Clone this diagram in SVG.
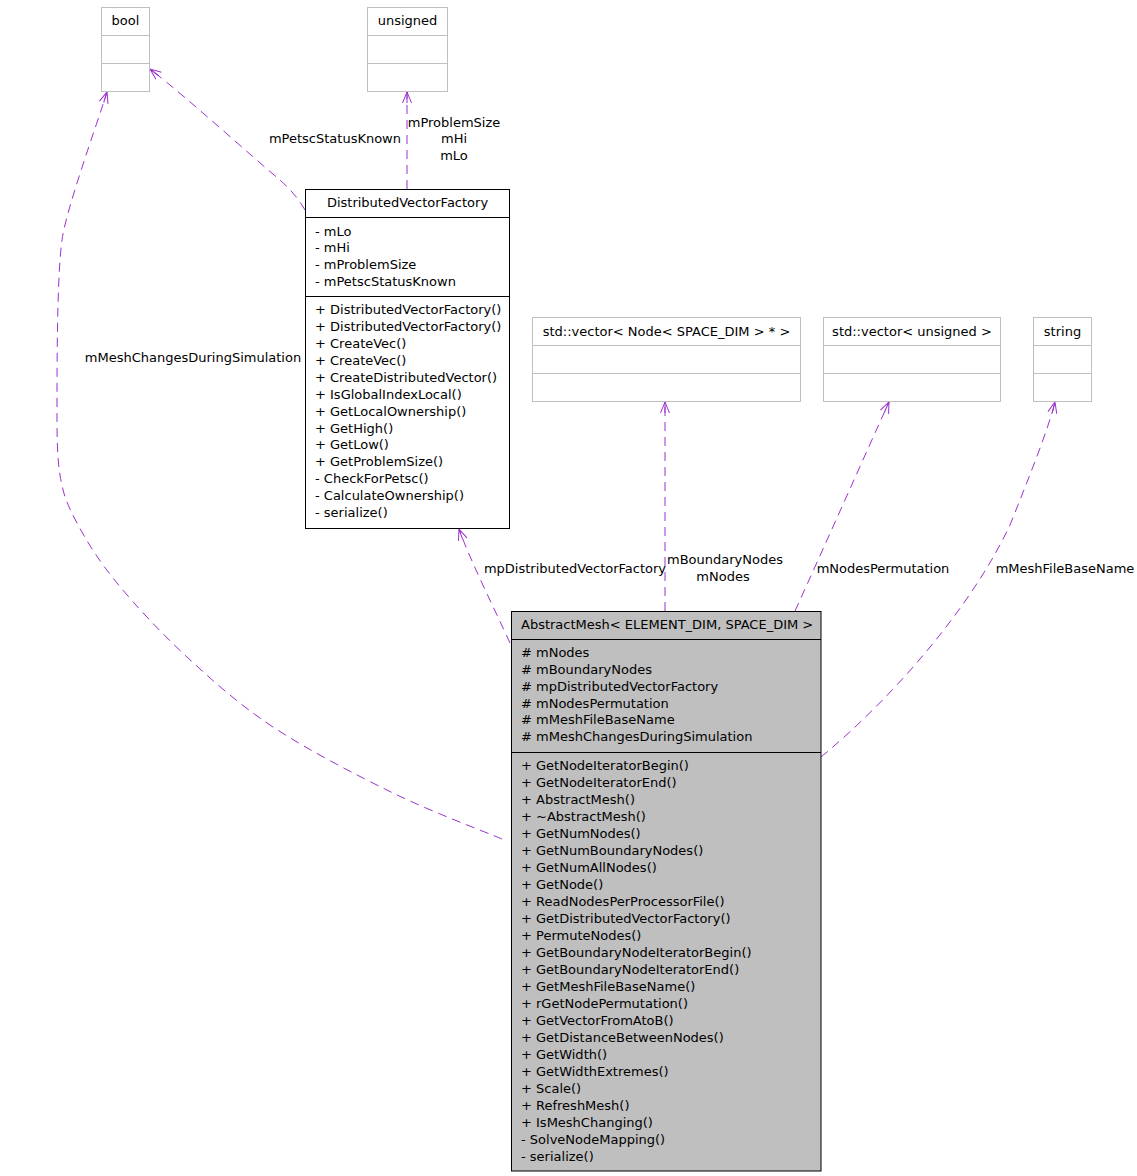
<svg xmlns="http://www.w3.org/2000/svg" width="1137" height="1176" viewBox="0 0 1137 1176">
<style>
text{font-family:"DejaVu Sans","Liberation Sans",sans-serif;font-size:13px;fill:#000}
.ext{fill:#fff;stroke:#bfbfbf;stroke-width:1}
.cls{fill:#fff;stroke:#000;stroke-width:1}
.main{fill:#bfbfbf;stroke:#000;stroke-width:1}
.sepx{stroke:#bfbfbf;stroke-width:1}
.sep{stroke:#000;stroke-width:1}
.edge{fill:none;stroke:#9a32cd;stroke-width:1;stroke-dasharray:9,6;marker-end:url(#arr)}
.m{text-anchor:middle}
.e{text-anchor:end}
</style>
<defs>
<marker id="arr" markerUnits="userSpaceOnUse" markerWidth="14" markerHeight="14" viewBox="-12 -7 14 14" refX="0" refY="0" orient="auto">
<path d="M-11,-4.5 L0,0 L-11,4.5 M-11,0 L0,0" fill="none" stroke="#9a32cd" stroke-width="1"/>
</marker>
</defs>
<rect width="1137" height="1176" fill="#fff"/>

<g id="connectors">
<path class="edge" d="M502,839 C483.8,831.3 431.2,811.7 393,793 C354.8,774.3 307.3,749.7 273,727 C238.7,704.3 213,681 187,657 C161,633 135.3,605.3 117,583 C98.7,560.7 86.5,541 77,523 C67.5,505 63.3,495.5 60,475 C56.7,454.5 57,430 57,400 C57,330 58,270 62,240 C66,210 95,130 107,92"/>
<path class="edge" d="M305,210 C298,198 291,190 280,180 C250,155 190,100 150,69"/>
<path class="edge" d="M407,189 L407,92"/>
<path class="edge" d="M510,643 C495,610 470,560 459,529"/>
<path class="edge" d="M665,611 L665,402"/>
<path class="edge" d="M795,611 C825,545 865,455 889,402"/>
<path class="edge" d="M821,757 C890,700 970,610 1010,525 C1030,475 1048,430 1055,402"/>
<text x="193" y="361.5" class="m">mMeshChangesDuringSimulation</text>
<text x="401" y="142.5" class="e">mPetscStatusKnown</text>
<text x="454" y="126.5" class="m">mProblemSize</text>
<text x="454" y="142.5" class="m">mHi</text>
<text x="454" y="159.5" class="m">mLo</text>
<text x="575" y="572.5" class="m">mpDistributedVectorFactory</text>
<text x="725" y="563.5" class="m">mBoundaryNodes</text>
<text x="723" y="580.5" class="m">mNodes</text>
<text x="883" y="572.5" class="m">mNodesPermutation</text>
<text x="1065" y="572.5" class="m">mMeshFileBaseName</text>
</g>

<g id="bool">
<rect class="ext" x="101.5" y="7.5" width="48" height="84"/>
<line class="sepx" x1="101.5" y1="35.5" x2="149.5" y2="35.5"/>
<line class="sepx" x1="101.5" y1="63.5" x2="149.5" y2="63.5"/>
<text x="125.5" y="25" class="m">bool</text>
</g>

<g id="unsigned">
<rect class="ext" x="367.5" y="7.5" width="80" height="84"/>
<line class="sepx" x1="367.5" y1="35.5" x2="447.5" y2="35.5"/>
<line class="sepx" x1="367.5" y1="63.5" x2="447.5" y2="63.5"/>
<text x="407.5" y="25" class="m">unsigned</text>
</g>

<g id="vector_node">
<rect class="ext" x="532.5" y="317.5" width="268" height="84"/>
<line class="sepx" x1="532.5" y1="345.5" x2="800.5" y2="345.5"/>
<line class="sepx" x1="532.5" y1="373.5" x2="800.5" y2="373.5"/>
<text x="666.5" y="335.5" class="m">std::vector&lt; Node&lt; SPACE_DIM &gt; * &gt;</text>
</g>

<g id="vector_unsigned">
<rect class="ext" x="823.5" y="317.5" width="177" height="84"/>
<line class="sepx" x1="823.5" y1="345.5" x2="1000.5" y2="345.5"/>
<line class="sepx" x1="823.5" y1="373.5" x2="1000.5" y2="373.5"/>
<text x="912" y="335.5" class="m">std::vector&lt; unsigned &gt;</text>
</g>

<g id="string">
<rect class="ext" x="1033.5" y="317.5" width="58" height="84"/>
<line class="sepx" x1="1033.5" y1="345.5" x2="1091.5" y2="345.5"/>
<line class="sepx" x1="1033.5" y1="373.5" x2="1091.5" y2="373.5"/>
<text x="1062.5" y="335.5" class="m">string</text>
</g>

<g id="DistributedVectorFactory">
<rect class="cls" x="305.5" y="189.5" width="204" height="339"/>
<line class="sep" x1="305.5" y1="217.5" x2="509.5" y2="217.5"/>
<line class="sep" x1="305.5" y1="296.5" x2="509.5" y2="296.5"/>
<text x="407.5" y="207" class="m">DistributedVectorFactory</text>
<text x="315" y="235.5">- mLo</text>
<text x="315" y="252.2">- mHi</text>
<text x="315" y="268.9">- mProblemSize</text>
<text x="315" y="285.6">- mPetscStatusKnown</text>
<text x="315" y="313.8">+ DistributedVectorFactory()</text>
<text x="315" y="330.8">+ DistributedVectorFactory()</text>
<text x="315" y="347.7">+ CreateVec()</text>
<text x="315" y="364.7">+ CreateVec()</text>
<text x="315" y="381.6">+ CreateDistributedVector()</text>
<text x="315" y="398.6">+ IsGlobalIndexLocal()</text>
<text x="315" y="415.5">+ GetLocalOwnership()</text>
<text x="315" y="432.5">+ GetHigh()</text>
<text x="315" y="449.4">+ GetLow()</text>
<text x="315" y="466.4">+ GetProblemSize()</text>
<text x="315" y="483.3">- CheckForPetsc()</text>
<text x="315" y="500.3">- CalculateOwnership()</text>
<text x="315" y="517.2">- serialize()</text>
</g>

<g id="AbstractMesh">
<rect class="main" x="511.5" y="611.5" width="309.5" height="559.5"/>
<line class="sep" x1="511.5" y1="639.5" x2="821" y2="639.5"/>
<line class="sep" x1="511.5" y1="752.5" x2="821" y2="752.5"/>
<text x="521" y="629">AbstractMesh&lt; ELEMENT_DIM, SPACE_DIM &gt;</text>
<text x="521" y="656.8"># mNodes</text>
<text x="521" y="673.7"># mBoundaryNodes</text>
<text x="521" y="690.6"># mpDistributedVectorFactory</text>
<text x="521" y="707.5"># mNodesPermutation</text>
<text x="521" y="724.4"># mMeshFileBaseName</text>
<text x="521" y="741.3"># mMeshChangesDuringSimulation</text>
<text x="521" y="769.5">+ GetNodeIteratorBegin()</text>
<text x="521" y="786.5">+ GetNodeIteratorEnd()</text>
<text x="521" y="803.5">+ AbstractMesh()</text>
<text x="521" y="820.5">+ ~AbstractMesh()</text>
<text x="521" y="837.5">+ GetNumNodes()</text>
<text x="521" y="854.5">+ GetNumBoundaryNodes()</text>
<text x="521" y="871.5">+ GetNumAllNodes()</text>
<text x="521" y="888.5">+ GetNode()</text>
<text x="521" y="905.5">+ ReadNodesPerProcessorFile()</text>
<text x="521" y="922.5">+ GetDistributedVectorFactory()</text>
<text x="521" y="939.5">+ PermuteNodes()</text>
<text x="521" y="956.5">+ GetBoundaryNodeIteratorBegin()</text>
<text x="521" y="973.5">+ GetBoundaryNodeIteratorEnd()</text>
<text x="521" y="990.5">+ GetMeshFileBaseName()</text>
<text x="521" y="1007.5">+ rGetNodePermutation()</text>
<text x="521" y="1024.5">+ GetVectorFromAtoB()</text>
<text x="521" y="1041.5">+ GetDistanceBetweenNodes()</text>
<text x="521" y="1058.5">+ GetWidth()</text>
<text x="521" y="1075.5">+ GetWidthExtremes()</text>
<text x="521" y="1092.5">+ Scale()</text>
<text x="521" y="1109.5">+ RefreshMesh()</text>
<text x="521" y="1126.5">+ IsMeshChanging()</text>
<text x="521" y="1143.5">- SolveNodeMapping()</text>
<text x="521" y="1160.5">- serialize()</text>
</g>
</svg>
